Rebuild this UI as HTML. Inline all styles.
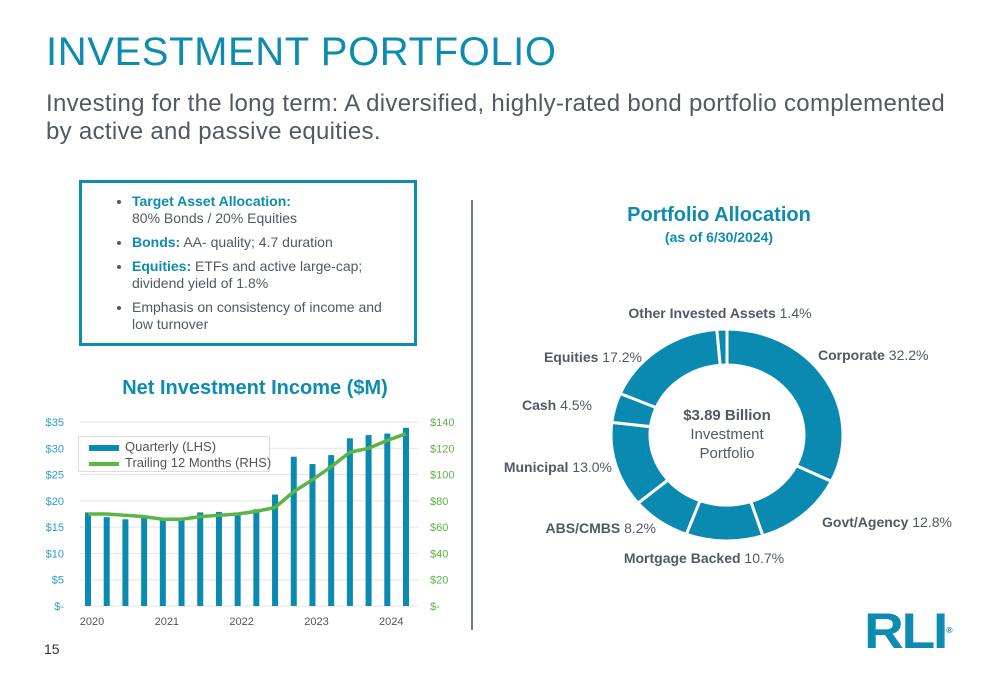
<!DOCTYPE html>
<html><head><meta charset="utf-8"><style>
body{margin:0;width:1000px;height:685px;background:#fff;font-family:"Liberation Sans",sans-serif;position:relative;overflow:hidden}
.a{position:absolute}
</style></head><body>
<div class="a" style="left:46px;top:30px;font-size:40px;color:#0e8bb1;letter-spacing:0.6px">INVESTMENT PORTFOLIO</div>
<div class="a" style="left:46px;top:90px;font-size:24px;line-height:28px;color:#505a63;width:912px;letter-spacing:0.3px">Investing for the long term: A diversified, highly-rated bond portfolio complemented by active and passive equities.</div>
<div class="a" style="left:79px;top:180px;width:332px;height:160px;border:3px solid #0e8bb1;font-size:14px;color:#505a63">
<ul style="margin:10px 0 0 0;padding-left:50px;line-height:17px;padding-right:30px">
<li style="margin-bottom:7px"><b style="color:#0e8bb1">Target Asset Allocation:</b><br>80% Bonds / 20% Equities</li>
<li style="margin-bottom:7px"><b style="color:#0e8bb1">Bonds:</b> AA- quality; 4.7 duration</li>
<li style="margin-bottom:7px"><b style="color:#0e8bb1">Equities:</b> ETFs and active large-cap; dividend yield of 1.8%</li>
<li>Emphasis on consistency of income and low turnover</li></ul></div>
<div class="a" style="left:471px;top:200px;width:2px;height:430px;background:#707a83"></div>
<div class="a" style="left:60px;top:377px;width:390px;text-align:center;font-size:20px;font-weight:bold;color:#0e8bb1">Net Investment Income ($M)</div>
<svg class="a" style="left:0;top:400px" width="470" height="240" id="bar"></svg>
<div class="a" style="left:78px;top:436px;width:190px;height:34px;border:1px solid #ddd;background:#fff;font-size:13px;color:#555;white-space:nowrap">
<div style="position:absolute;left:10px;top:2px"><span style="display:inline-block;width:30px;height:6px;background:#0a8ab0;vertical-align:middle;margin-right:6px"></span>Quarterly (LHS)</div>
<div style="position:absolute;left:10px;top:18px"><span style="display:inline-block;width:30px;height:4px;background:#5bb544;vertical-align:middle;margin-right:6px"></span>Trailing 12 Months (RHS)</div></div>
<div class="a" style="left:590px;top:204px;width:258px;text-align:center;color:#0e8bb1;font-weight:bold"><div style="font-size:20px">Portfolio Allocation</div><div style="font-size:14px;margin-top:2px">(as of 6/30/2024)</div></div>
<svg class="a" style="left:480px;top:290px" width="520" height="300" id="donut"></svg>
<div class="a" style="left:647px;top:406px;width:160px;text-align:center;color:#505a63;font-size:15px;line-height:19px"><b>$3.89 Billion</b><br>Investment<br>Portfolio</div>
<div class="a" style="left:868px;top:606px;font-size:50px;font-weight:900;color:#0e8bb1;letter-spacing:-2px;line-height:50px;transform:scaleX(1.1)">RLI<sup style="font-size:8px;vertical-align:top">®</sup></div>
<div class="a" style="left:44px;top:641px;font-size:14px;color:#333">15</div>
<script>
const qtrs=[17.8,16.9,16.5,17.0,16.6,16.5,17.8,17.9,17.6,18.4,21.2,28.4,27.0,28.7,31.9,32.5,32.8,33.9];
const ttm=[70,70,69,68,66,66,68,69,70,72,75,87,96,106,117,120,126,131];
const leftTicks=["$-","$5","$10","$15","$20","$25","$30","$35"];
const rightTicks=["$-","$20","$40","$60","$80","$100","$120","$140"];
const years=["2020","2021","2022","2023","2024"];
const sliceLabels=["Corporate","Govt/Agency","Mortgage Backed","ABS/CMBS","Municipal","Cash","Equities","Other Invested Assets"];
const sliceValues=[32.2,12.8,10.7,8.2,13.0,4.5,17.2,1.4];
const NS="http://www.w3.org/2000/svg";
function mk(p,t,a){const e=document.createElementNS(NS,t);for(const k in a)e.setAttribute(k,a[k]);p.appendChild(e);return e;}
const svg=document.getElementById('bar');
const y0=206,yTop=22,yL=v=>y0-v/35*(y0-yTop),yR=v=>y0-v/140*(y0-yTop);
const xB=i=>88+i*(406-88)/17;
for(let i=0;i<leftTicks.length;i++){const y=y0-i*(y0-yTop)/7;
const g=mk(svg,'line',{x1:80,x2:418,y1:y,y2:y,stroke:'#e3e3e3'});
const t=mk(svg,'text',{x:64,y:y+4,'text-anchor':'end','font-size':11,fill:'#2a9fc5'});t.textContent=leftTicks[i];
const r=mk(svg,'text',{x:430,y:y+4,'font-size':11,fill:'#5bb544'});r.textContent=rightTicks[i];}
qtrs.forEach((v,i)=>{const b=mk(svg,'rect',{x:xB(i)-3,y:yL(v),width:6,height:y0-yL(v),fill:'#0a8ab0'});});
const l=mk(svg,'polyline',{points:ttm.map((v,i)=>xB(i)+','+yR(v)).join(' '),fill:'none',stroke:'#5bb544','stroke-width':3.5,'stroke-linejoin':'round'});

years.forEach((y,i)=>{const t=mk(svg,'text',{x:xB(i*4)+4,y:225,'text-anchor':'middle','font-size':11,fill:'#555'});t.textContent=y;});
const d=document.getElementById('donut');
const cx=247,cy=145,rx=116,ry=106,irx=77,iry=70;
const tot=sliceValues.reduce((a,b)=>a+b,0);
const pt=(a,x,y)=>[cx+x*Math.sin(a),cy-y*Math.cos(a)];
let acc=0;
const labelPos=[[338,70,'start'],[342,237,'start'],[224,273,'middle'],[176,243,'end'],[132,182,'end'],[112,120,'end'],[162,72,'end'],[240,28,'middle']];
sliceValues.forEach((v,i)=>{const a0=acc/tot*2*Math.PI,a1=(acc+v)/tot*2*Math.PI;acc+=v;
const lg=(a1-a0)>Math.PI?1:0;const p0=pt(a0,rx,ry),p1=pt(a1,rx,ry),q1=pt(a1,irx,iry),q0=pt(a0,irx,iry);
const p=mk(d,'path',{d:`M${p0} A${rx},${ry} 0 ${lg} 1 ${p1} L${q1} A${irx},${iry} 0 ${lg} 0 ${q0}Z`,fill:'#0a8ab0',stroke:'#fff','stroke-width':3});

const L=labelPos[i];const t=mk(d,'text',{x:L[0],y:L[1],'text-anchor':L[2],'font-size':14,fill:'#505a63'});
t.innerHTML='<tspan font-weight="bold">'+sliceLabels[i]+'</tspan> '+v.toFixed(1)+'%';
});
</script>
</body></html>
